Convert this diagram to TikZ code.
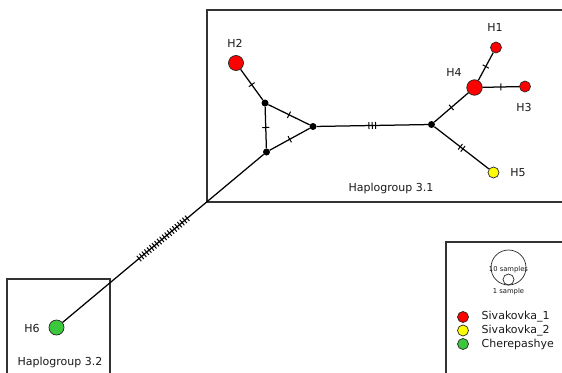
\documentclass[tikz,border=0pt]{standalone}
\usepackage{fontspec}
\setmainfont{DejaVu Sans}
\usetikzlibrary{decorations.markings}

\definecolor{hapred}{RGB}{255,0,0}
\definecolor{hapyellow}{RGB}{255,255,0}
\definecolor{hapgreen}{RGB}{60,200,60}

\tikzset{
  hap/.style={circle, draw=black!85, line width=0.7pt, inner sep=0pt, minimum size=#1},
  mv/.style={circle, fill=black, inner sep=0pt, minimum size=7pt},
  link/.style={line width=1.25pt},
  lbl/.style={font=\fontsize{11}{13}\selectfont, text=black!90, inner sep=0pt},
  tiny/.style={font=\fontsize{6.8}{7}\selectfont, text=black!90, inner sep=0pt},
  frame/.style={line width=1.2pt, draw=black!80},
  % mutation ticks across the middle of an edge
  hatch/.style={postaction={decorate}, decoration={markings,
      mark=at position 0.5 with {\foreach \k in {1,...,#1}{
          \draw[line width=1pt] ({(\k-(#1+1)/2)*3.3pt},-3.5pt) -- ({(\k-(#1+1)/2)*3.3pt},3.5pt);}}}},
}

\begin{document}
\begin{tikzpicture}[x=1pt, y=-1pt]
\useasboundingbox (0,0) rectangle (562,372);
\clip (0,0) rectangle (562,372);

% group frames
\draw[frame] (565,10) -| (207,202) -- (565,202);
\draw[frame] (7,375) |- (110,279) -- (110,375);
\draw[frame] (565,242) -| (446,375);

% haplotypes and median vectors
\node[hap=15pt, fill=hapred] (H2) at (236,63) {};
\node[mv] (a) at (265,103) {};
\node[mv] (b) at (266.5,152) {};
\node[mv] (c) at (313,126.5) {};
\node[mv] (d) at (431.5,124.5) {};
\node[hap=15.5pt, fill=hapred] (H4) at (474.5,87.5) {};
\node[hap=11pt, fill=hapred] (H1) at (496,47.5) {};
\node[hap=11pt, fill=hapred] (H3) at (525,86.5) {};
\node[hap=11pt, fill=hapyellow] (H5) at (493.5,172.5) {};
\node[hap=15pt, fill=hapgreen] (H6) at (56.5,327.5) {};

% links with mutation steps
\draw[link, hatch=1] (H2) -- (a);
\draw[link, hatch=1] (a) -- (b);
\draw[link, hatch=1] (a) -- (c);
\draw[link, hatch=1] (b) -- (c);
\draw[link, hatch=3] (c) -- (d);
\draw[link, hatch=1] (d) -- (H4);
\draw[link, hatch=1] (H4) -- (H1);
\draw[link, hatch=1] (H4) -- (H3);
\draw[link, hatch=2] (d) -- (H5);
\draw[link, hatch=20] (b) -- (H6);

% haplotype labels
\node[lbl] (tH1) at (495,27) {H1};
\node[lbl] (tH2) at (235,43) {H2};
\node[lbl] (tH3) at (524,107) {H3};
\node[lbl] (tH4) at (454,72) {H4};
\node[lbl] (tH5) at (518,173) {H5};
\node[lbl] (tH6) at (32,328) {H6};
\node[lbl] (g31) at (391,188) {Haplogroup 3.1};
\node[lbl] (g32) at (60,362) {Haplogroup 3.2};

% size key
\node[circle, draw=black!85, line width=0.7pt, inner sep=0pt, minimum size=35pt] (big) at (508.5,267.5) {};
\node[circle, draw=black!85, line width=0.7pt, inner sep=0pt, minimum size=11pt] (small) at (508.5,279.5) {};
\node[tiny] (t10) at (508.5,270) {10 samples};
\node[tiny] (t1) at (508.5,291.5) {1 sample};

% colour key
\node[hap=11pt, fill=hapred] (k1) at (463,317) {};
\node[hap=11pt, fill=hapyellow] (k2) at (463,330.5) {};
\node[hap=11pt, fill=hapgreen] (k3) at (463,344) {};
\node[lbl, anchor=west] (l1) at (481.5,317) {Sivakovka\_1};
\node[lbl, anchor=west] (l2) at (481.5,330.5) {Sivakovka\_2};
\node[lbl, anchor=west] (l3) at (481.5,344) {Cherepashye};
\end{tikzpicture}
\end{document}
